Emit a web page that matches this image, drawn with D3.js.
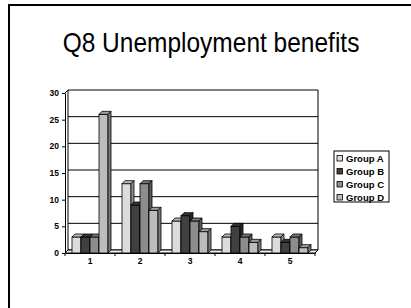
<!DOCTYPE html>
<html>
<head>
<meta charset="utf-8">
<script src="https://cdn.jsdelivr.net/npm/d3@7"></script>
<style>
  body { margin: 0; background: #fff; }
  text { font-family: "Liberation Sans", Arial, sans-serif; }
</style>
</head>
<body>
<svg id="chart" width="411" height="308"></svg>
<script>
// Chart data
const categories = ["1", "2", "3", "4", "5"];
const seriesNames = ["Group A", "Group B", "Group C", "Group D"];
const groupA = [3, 13, 6, 3, 3];
const groupB = [3, 9, 7, 5, 2];
const groupC = [3, 13, 6, 3, 3];
const groupD = [26, 8, 4, 2, 1];
const yTicks = [0, 5, 10, 15, 20, 25, 30];

const seriesValues = [groupA, groupB, groupC, groupD];
const colors = ["#dcdcdc", "#404040", "#8c8c8c", "#bdbdbd"];

const svg = d3.select("#chart");

// outer frame
svg.append("rect")
  .attr("x", 9).attr("y", 5)
  .attr("width", 420).attr("height", 320)
  .attr("fill", "none")
  .attr("stroke", "#000")
  .attr("stroke-width", 2);

// title (slightly tall, like the reference)
svg.append("text")
  .attr("transform", "translate(211,52) scale(1,1.12)")
  .attr("text-anchor", "middle")
  .style("font-size", "24.5px")
  .text("Q8 Unemployment benefits");

// 3D depth offset
const dx = 3, dy = 3;

const x = d3.scaleBand()
  .domain(categories)
  .range([65, 315])
  .paddingInner(0)
  .paddingOuter(0);

const xInner = d3.scaleBand()
  .domain(seriesNames)
  .range([0, 36]);

// back wall scale
const y = d3.scaleLinear()
  .domain([0, 30])
  .range([250, 90]);

// back wall gridlines
svg.append("g")
  .selectAll("line")
  .data(yTicks)
  .enter()
  .append("line")
  .attr("x1", 65 + dx)
  .attr("x2", 315 + dx)
  .attr("y1", d => y(d))
  .attr("y2", d => y(d))
  .attr("stroke", "#000")
  .attr("stroke-width", 1);

// back wall edges
svg.append("line")
  .attr("x1", 315 + dx).attr("x2", 315 + dx)
  .attr("y1", y(30)).attr("y2", y(0))
  .attr("stroke", "#000");
svg.append("line")
  .attr("x1", 65 + dx).attr("x2", 65 + dx)
  .attr("y1", y(30)).attr("y2", y(0))
  .attr("stroke", "#000");

// side wall top edge
svg.append("line")
  .attr("x1", 65).attr("x2", 65 + dx)
  .attr("y1", y(30) + dy).attr("y2", y(30))
  .attr("stroke", "#000");

// floor
svg.append("path")
  .attr("d", `M65,${y(0) + dy} L315,${y(0) + dy} L${315 + dx},${y(0)} L${65 + dx},${y(0)} Z`)
  .attr("fill", "#f2f2f2")
  .attr("stroke", "#000")
  .attr("stroke-width", 1);

// bars
const bars = [];
seriesValues.forEach((vals, s) => {
  vals.forEach((v, i) => {
    bars.push({ s: s, cat: categories[i], v: v });
  });
});

const g = svg.append("g");
bars.forEach(b => {
  const x0 = x(b.cat) + (x.bandwidth() - 36) / 2 + xInner(seriesNames[b.s]);
  const w = xInner.bandwidth();
  const yTop = y(b.v) + dy;
  const yBot = y(0) + dy;
  const base = d3.color(colors[b.s]);
  // front
  g.append("rect")
    .attr("x", x0).attr("y", yTop)
    .attr("width", w).attr("height", yBot - yTop)
    .attr("fill", base)
    .attr("stroke", "#000").attr("stroke-width", 0.8);
  // top
  g.append("path")
    .attr("d", `M${x0},${yTop} L${x0 + dx},${yTop - dy} L${x0 + w + dx},${yTop - dy} L${x0 + w},${yTop} Z`)
    .attr("fill", base.darker(0.5))
    .attr("stroke", "#000").attr("stroke-width", 0.8);
  // side
  g.append("path")
    .attr("d", `M${x0 + w},${yTop} L${x0 + w + dx},${yTop - dy} L${x0 + w + dx},${yBot - dy} L${x0 + w},${yBot} Z`)
    .attr("fill", base.darker(1.2))
    .attr("stroke", "#000").attr("stroke-width", 0.8);
});

// y axis (front)
const yFront = d3.scaleLinear().domain([0, 30]).range([250 + dy, 90 + dy]);
const yAxis = svg.append("g")
  .attr("transform", "translate(65,0)")
  .call(d3.axisLeft(yFront).tickValues(yTicks).tickSize(3).tickSizeOuter(0));
yAxis.selectAll("text")
  .style("font-size", "8.5px")
  .style("font-weight", "bold")
  .attr("dy", "0.3em");

// x axis (front)
const xAxis = svg.append("g")
  .attr("transform", `translate(0,${y(0) + dy})`)
  .call(d3.axisBottom(x).tickSize(0).tickSizeOuter(0));
xAxis.selectAll("text")
  .style("font-size", "8.5px")
  .style("font-weight", "bold")
  .attr("dy", "0.9em");
xAxis.selectAll("g.sep")
  .data(d3.range(categories.length + 1))
  .enter()
  .append("line")
  .attr("x1", d => 65 + d * x.bandwidth())
  .attr("x2", d => 65 + d * x.bandwidth())
  .attr("y1", 0).attr("y2", 3)
  .attr("stroke", "#000");
svg.selectAll(".domain").attr("stroke", "#000");

// legend
const legend = svg.append("g").attr("transform", "translate(334,151)");
legend.append("rect")
  .attr("width", 55).attr("height", 51)
  .attr("fill", "#fff")
  .attr("stroke", "#000");
seriesNames.forEach((name, i) => {
  const row = legend.append("g").attr("transform", `translate(3,${10 + i * 13})`);
  row.append("rect")
    .attr("x", 0).attr("y", -5.5)
    .attr("width", 5.5).attr("height", 5.5)
    .attr("fill", colors[i])
    .attr("stroke", "#000").attr("stroke-width", 0.8);
  row.append("text")
    .attr("x", 9).attr("y", 0.5)
    .style("font-size", "9.5px")
    .style("font-weight", "bold")
    .text(name);
});
</script>
</body>
</html>
